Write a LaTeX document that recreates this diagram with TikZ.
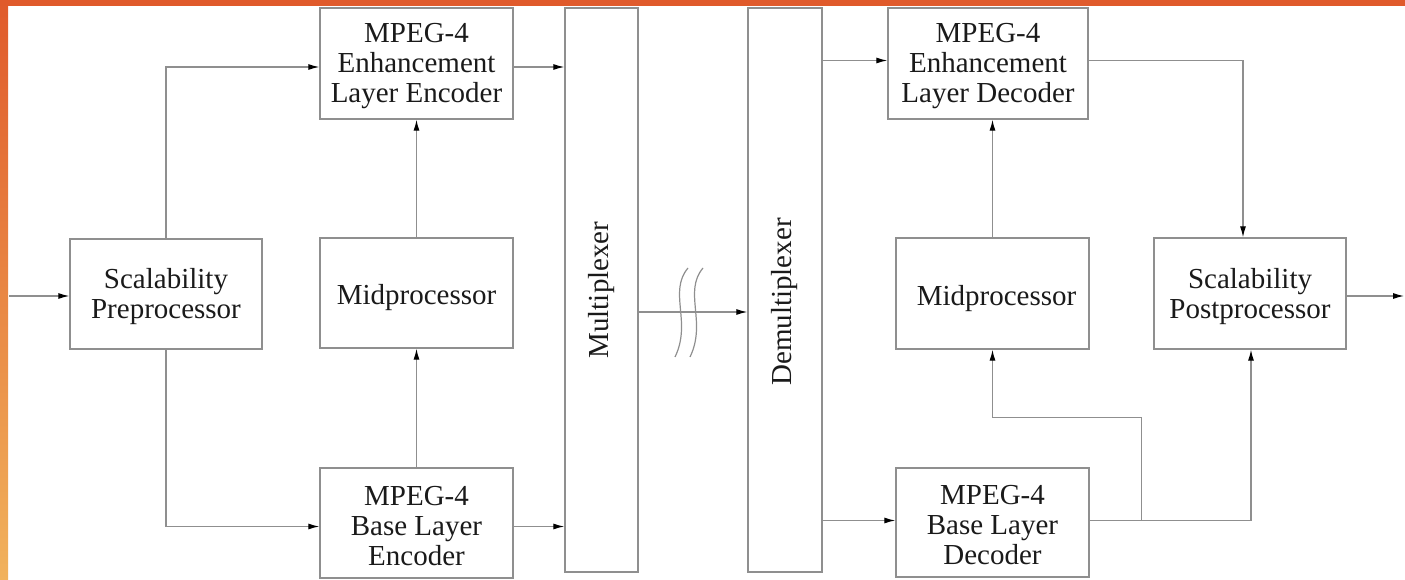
\documentclass[tikz,border=0pt]{standalone}
\usepackage{fontspec}
\setmainfont{Liberation Serif}
\usetikzlibrary{arrows.meta,calc}
\definecolor{lc}{HTML}{8F8F8F}
\definecolor{tc}{HTML}{1A1A1A}
\definecolor{orA}{RGB}{224,90,43}
\definecolor{orB}{RGB}{241,178,92}
\begin{document}
\begin{tikzpicture}[x=1pt,y=-1pt,
  box/.style={draw=lc,line width=1.3pt,inner sep=0pt,minimum width=193pt,minimum height=110pt},
  lbl/.style={inner sep=0pt,align=center,text=tc,font=\rmfamily\fontsize{29}{30}\selectfont},
  ln/.style={draw=lc,line width=1.2pt},
  arr/.style={ln,-{Latex[length=11pt,width=6pt,color=black]}}]
\useasboundingbox (0,0) rectangle (1405,580);
% frame
\shade[top color=orA,bottom color=orB] (0,0) rectangle (8,580);
\fill[orA] (0,0) rectangle (1405,6);
% boxes
\node[box,minimum width=192pt] (pre) at (166,294) {};
\node[box,minimum height=111pt] (ee) at (416.5,63.5) {};
\node[box] (me) at (416.5,293) {};
\node[box] (be) at (416.5,523) {};
\node[box,minimum width=73pt,minimum height=564pt] (mux) at (601.5,290) {};
\node[box,minimum width=74pt,minimum height=564pt] (dmx) at (785,290) {};
\node[box,minimum width=200pt,minimum height=111pt] (ed) at (988,63.5) {};
\node[box,minimum height=111pt] (md) at (992.5,293.5) {};
\node[box,minimum height=109pt] (bd) at (992.5,522.5) {};
\node[box,minimum width=192pt,minimum height=111pt] (post) at (1250,293.5) {};
% texts
\node[lbl] (pret) at ($(pre)+(0,3)$) {Scalability\\Preprocessor};
\node[lbl] (eet) at ($(ee)+(0,3)$) {MPEG-4\\Enhancement\\Layer Encoder};
\node[lbl] (met) at ($(me)+(0,5)$) {Midprocessor};
\node[lbl] (bet) at ($(be)+(0,3)$) {MPEG-4\\Base Layer\\Encoder};
\node[lbl,rotate=90] (muxt) at (601.5,290) {Multiplexer};
\node[lbl,rotate=90] (dmxt) at (785,302) {Demultiplexer};
\node[lbl] (edt) at ($(ed)+(0,3)$) {MPEG-4\\Enhancement\\Layer Decoder};
\node[lbl] (mdt) at ($(md)+(4,5)$) {Midprocessor};
\node[lbl] (bdt) at ($(bd)+(0,3)$) {MPEG-4\\Base Layer\\Decoder};
\node[lbl] (postt) at ($(post)+(0,3)$) {Scalability\\Postprocessor};
% free ends and helper points
\coordinate (in) at (9,296);
\coordinate (out) at (1404,296);
\coordinate (eei) at ($(ee.west)+(0,3.5)$);
\coordinate (bei) at ($(be.west)+(0,3.5)$);
\coordinate (eeo) at ($(ee.east)+(0,3.5)$);
\coordinate (beo) at ($(be.east)+(0,3.5)$);
\coordinate (muxo) at ($(mux.east)+(0,22)$);
\coordinate (edi) at ($(ed.west)+(0,-3)$);
\coordinate (bdi) at ($(bd.west)+(0,-2)$);
\coordinate (edo) at ($(ed.east)+(0,-3)$);
\coordinate (bdo) at ($(bd.east)+(0,-2)$);
\coordinate (posti) at ($(post.north)+(-7,0)$);
\coordinate (postb) at ($(post.south)+(1,0)$);
\coordinate (posto) at ($(post.east)+(0,2.5)$);
\coordinate (j) at ($(bdo)+(52,0)$);
\coordinate (k) at ($(md.south)+(48.5,68)$);
% encoder side
\draw[arr] (in) -- (in -| pre.west);
\draw[arr] (pre.north) |- (eei);
\draw[arr] (pre.south) |- (bei);
\draw[arr] (me.north) -- (ee.south);
\draw[arr] (be.north) -- (me.south);
\draw[arr] (eeo) -- (eeo -| mux.west);
\draw[arr] (beo) -- (beo -| mux.west);
% channel
\draw[arr] (muxo) -- (muxo -| dmx.west);
\draw[ln] (688,268) .. controls (668,292) and (692,322) .. (675,357);
\draw[ln] (703,268) .. controls (683,292) and (707,322) .. (690,357);
% decoder side
\draw[arr] (edi -| dmx.east) -- (edi);
\draw[arr] (bdi -| dmx.east) -- (bdi);
\draw[arr] (md.north) -- (md.north |- ed.south);
\draw[arr] (edo) -| (posti);
\draw[arr] (bdo) -| (postb);
\draw[arr] (j) |- (k) -| (md.south);
\draw[arr] (posto) -- (out);
\end{tikzpicture}
\end{document}
